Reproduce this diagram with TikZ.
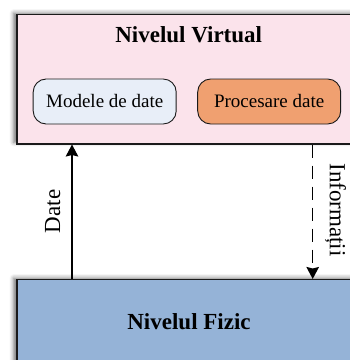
\documentclass[tikz,border=0pt]{standalone}
\usepackage{fontspec}
\setmainfont{Liberation Serif}
\usetikzlibrary{arrows.meta,shadows.blur,calc}

\definecolor{virtbg}{HTML}{FBE3EB}
\definecolor{fizbg}{HTML}{95B3D7}
\definecolor{modbg}{HTML}{E8EEF8}
\definecolor{procbg}{HTML}{F0A070}
\definecolor{edge}{HTML}{1A1A1A}

\tikzset{
  x=1pt, y=1pt,
  layer/.style={draw=edge, line width=1.2pt, inner sep=0pt, anchor=north west,
    blur shadow={shadow xshift=-3.5pt, shadow yshift=1.5pt,
                 shadow blur radius=4pt, shadow opacity=55}},
  item/.style={draw=edge, line width=0.9pt, rounded corners=13pt,
    minimum width=143pt, minimum height=45pt, inner sep=0pt,
    font=\fontsize{19}{22}\selectfont},
  title/.style={anchor=base, font=\fontsize{23}{27}\selectfont\bfseries},
  flowlabel/.style={anchor=base, font=\fontsize{23}{27}\selectfont},
  flow/.style={line width=1.6pt, -{Stealth[length=12pt, width=12.5pt, inset=1.5pt]}},
}

\begin{document}
\begin{tikzpicture}
  \useasboundingbox (0,0) rectangle (350,360);
  \clip (0,0) rectangle (350,360);

  % upper layer with its two components
  \node[layer, fill=virtbg, minimum width=344.5pt, minimum height=129.3pt]
    (virt) at (16.5,346) {};
  \node[title] (virtt) at (188.7,317.3) {Nivelul Virtual};
  \node[item, fill=modbg]  (mod)  at (104.7,258.5) {Modele de date};
  \node[item, fill=procbg] (proc) at (269.2,258.5) {Procesare date};

  % lower layer
  \node[layer, fill=fizbg, minimum width=344.5pt, minimum height=90pt]
    (fiz) at (16.5,81) {};
  \node[title] (fizt) at (189,30.7) {Nivelul Fizic};

  % data flowing up, information flowing down
  \coordinate (dx) at (72,0);
  \coordinate (ix) at (312.7,0);
  \draw[flow] (fiz.north -| dx) -- (virt.south -| dx);
  \draw[flow, dash pattern=on 13pt off 8pt] (virt.south -| ix) -- (fiz.north -| ix);

  \node[flowlabel, rotate=90]  (datel) at (60,148.5) {Date};
  \node[flowlabel, rotate=-90] (infol) at (330,150) {Informații};
\end{tikzpicture}
\end{document}
